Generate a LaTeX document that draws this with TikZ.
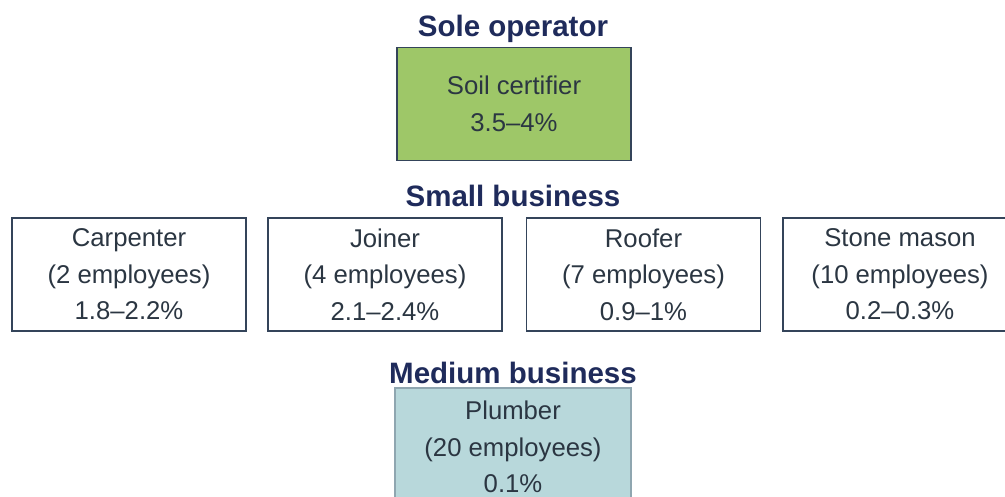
\documentclass[tikz,border=0pt]{standalone}
\usepackage{fontspec}
\setmainfont{Liberation Sans}
\definecolor{titleblue}{HTML}{1F2B5B}
\definecolor{bodytext}{HTML}{2B3642}
\definecolor{boxline}{HTML}{34445A}
\definecolor{soilgreen}{HTML}{9EC768}
\definecolor{plumbblue}{HTML}{B8D8DB}
\definecolor{plumbline}{HTML}{8FA6B0}
\begin{document}
\begin{tikzpicture}[x=1pt,y=-1pt,
  title/.style={font=\fontsize{29.5}{33}\selectfont\bfseries, text=titleblue, anchor=base, inner sep=0pt},
  box/.style={draw=boxline, line width=1.8pt, minimum width=234pt, minimum height=113pt, inner sep=0pt,
    font=\fontsize{25.7}{36.5}\selectfont, text=bodytext, align=center},
  ]
\useasboundingbox (0,0) rectangle (1005,497);
\clip (0,0) rectangle (1005,497);
\fill[white] (0,0) rectangle (1005,497);

\node[title] (t1) at (513,37) {Sole operator};
\node[box, fill=soilgreen] (soil) at (514,104) {Soil certifier\\3.5–4\%};

\node[title] (t2) at (513,207) {Small business};
\node[box] (carp) at (129,274.5) {Carpenter\\(2 employees)\\1.8–2.2\%};
\node[box] (join) at (385,274.5) {Joiner\\(4 employees)\\2.1–2.4\%};
\node[box] (roof) at (643.5,274.5) {Roofer\\(7 employees)\\0.9–1\%};
\node[box] (stone) at (900,274.5) {Stone mason\\(10 employees)\\0.2–0.3\%};

\node[title] (t3) at (513,383) {Medium business};
\node[box, draw=plumbline, fill=plumbblue, minimum width=236pt, minimum height=118pt] (plumb) at (513,447) {Plumber\\(20 employees)\\0.1\%};
\end{tikzpicture}
\end{document}
